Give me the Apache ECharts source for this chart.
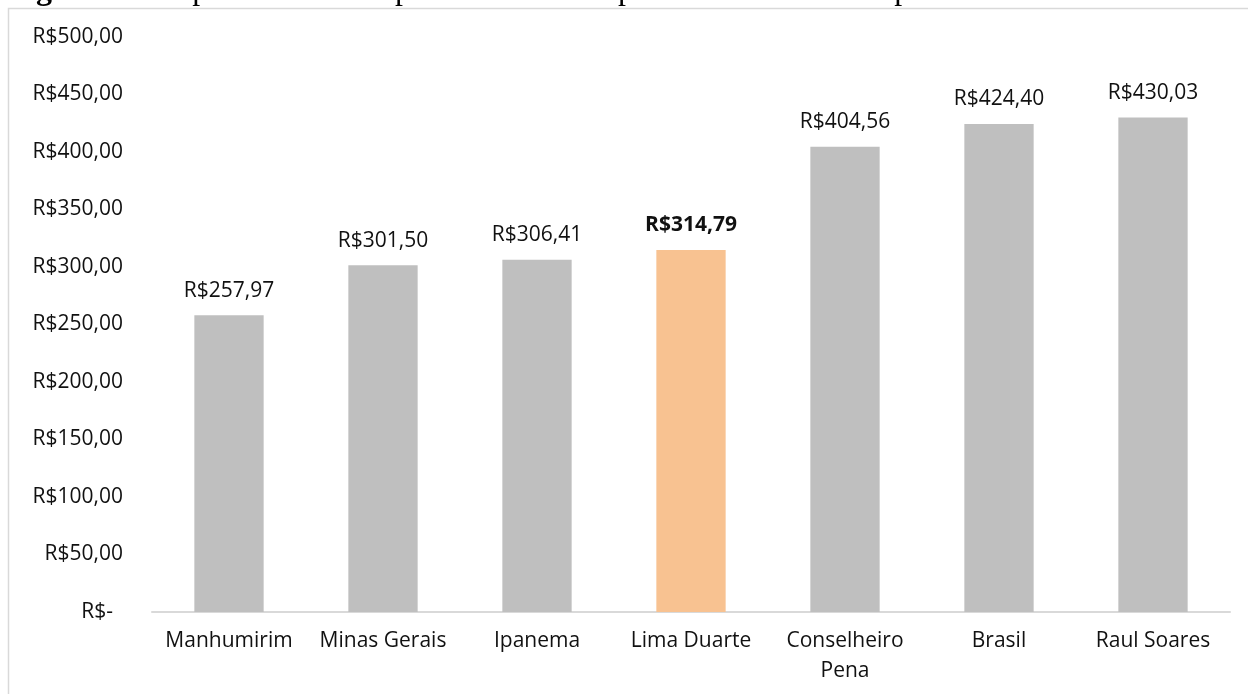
<!DOCTYPE html>
<html>
<head>
<meta charset="utf-8">
<script src="https://cdn.jsdelivr.net/npm/echarts@6/dist/echarts.min.js"></script>
<style>
  html, body { margin: 0; padding: 0; background: #fff; }
  #main { width: 1248px; height: 694px; }
</style>
</head>
<body>
<div id="main"></div>
<script>
var chartDom = document.getElementById('main');
var myChart = echarts.init(chartDom);
var option;

// Municipalities on the x axis
const categories = ['Manhumirim', 'Minas Gerais', 'Ipanema', 'Lima Duarte', 'Conselheiro\nPena', 'Brasil', 'Raul Soares'];
// Current expenses per economy (R$)
const values = [257.97, 301.50, 306.41, 314.79, 404.56, 424.40, 430.03];
// Index of the highlighted provider
const highlightIndex = 3;
// Y axis range
const yMin = 0;
const yMax = 500;
const yStep = 50;

const fontFamily = '"Open Sans", "Noto Sans", sans-serif';

function brl(v) {
    if (v === 0) return 'R$-';
    return 'R$' + v.toFixed(2).replace('.', ',');
}

const seriesData = values.map(function (v, i) {
    var item = {
        value: v,
        itemStyle: { color: i === highlightIndex ? '#F8C291' : '#BFBFBF' }
    };
    if (i === highlightIndex) {
        item.label = { fontWeight: 'bold' };
    }
    return item;
});

option = {
    animation: false,
    grid: {
        top: 37,
        bottom: 82,
        left: 152,
        right: 18
    },
    xAxis: {
        type: 'category',
        data: categories,
        axisLine: { lineStyle: { color: '#D9D9D9', width: 2 } },
        axisTick: { show: false },
        axisLabel: {
            color: '#111',
            fontSize: 21,
            fontFamily: fontFamily,
            lineHeight: 30,
            margin: 14,
            interval: 0
        }
    },
    yAxis: {
        type: 'value',
        min: yMin,
        max: yMax,
        interval: yStep,
        splitLine: { show: false },
        axisLine: { show: false },
        axisTick: { show: false },
        axisLabel: {
            color: '#111',
            fontSize: 21,
            fontFamily: fontFamily,
            margin: 29,
            // accounting style: the dash sits left of the decimal column
            formatter: function (v) {
                return v === 0 ? '{z|' + brl(v) + '}' : brl(v);
            },
            rich: {
                z: {
                    color: '#111',
                    fontSize: 21,
                    fontFamily: fontFamily,
                    padding: [0, 10, 0, 0]
                }
            }
        }
    },
    series: [
        {
            type: 'bar',
            data: seriesData,
            barWidth: '45%',
            label: {
                show: true,
                position: 'top',
                distance: 14,
                color: '#111',
                fontSize: 21,
                fontFamily: fontFamily,
                formatter: function (p) { return brl(p.value); }
            }
        }
    ],
    graphic: {
        elements: [
            {
                // chart frame
                type: 'rect',
                shape: { x: 8.5, y: 8.5, width: 1260, height: 720 },
                style: { fill: 'none', stroke: '#D9D9D9', lineWidth: 1.5 },
                silent: true
            },
            {
                // figure caption, cut off by the top edge
                type: 'text',
                x: 1120,
                y: 7,
                style: {
                    text: '{b|Figura 7:} Despesas correntes por economia do prestador e de municípios semelhantes.',
                    font: '32px "Liberation Serif", serif',
                    fill: '#000',
                    align: 'right',
                    verticalAlign: 'bottom',
                    rich: {
                        b: { font: 'bold 32px "Liberation Serif", serif', fill: '#000' }
                    }
                },
                z: 100
            }
        ]
    }
};

myChart.setOption(option);
</script>
</body>
</html>
